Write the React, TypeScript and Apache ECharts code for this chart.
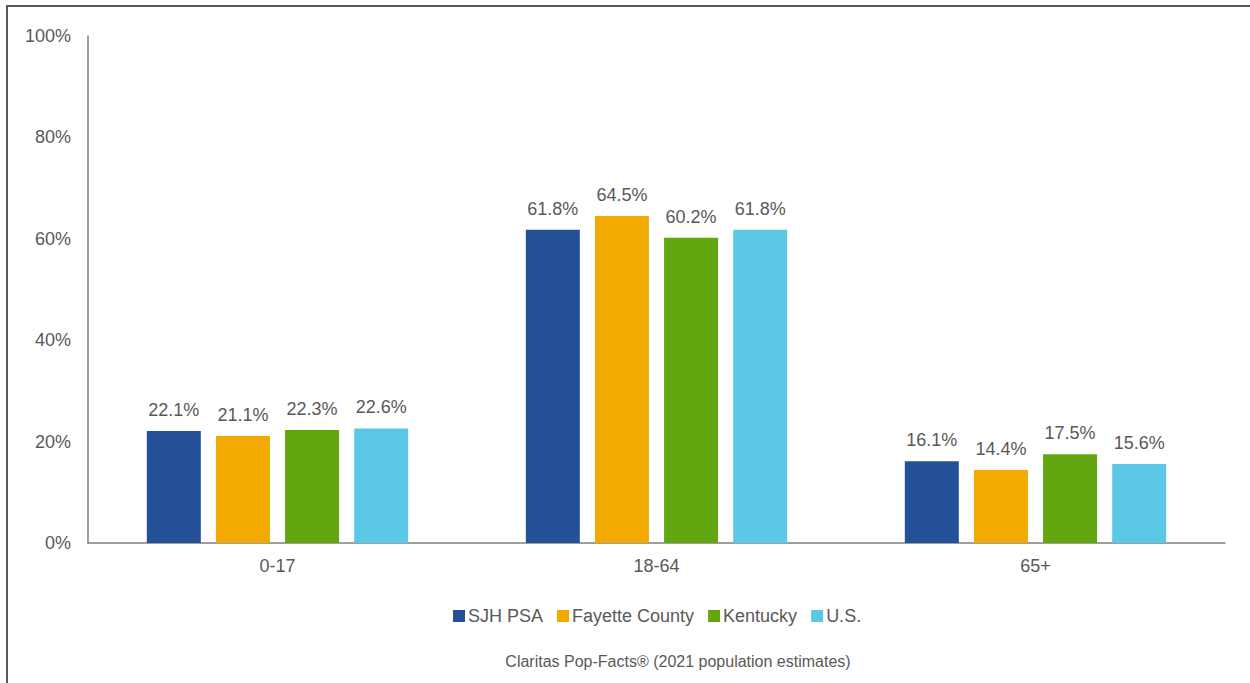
import React, { useEffect, useRef } from "react";
import * as echarts from "echarts";

const categories = ["0-17", "18-64", "65+"];
const seriesNames = ["SJH PSA", "Fayette County", "Kentucky", "U.S."];
const sjh = [22.1, 61.8, 16.1];
const fayette = [21.1, 64.5, 14.4];
const kentucky = [22.3, 60.2, 17.5];
const us = [22.6, 61.8, 15.6];
const colors = ["#245098", "#F2AA00", "#62A70F", "#5BC9E6"];
const sourceText = "Claritas Pop-Facts® (2021 population estimates)";

const FONT = "Liberation Sans, Arial, sans-serif";

export default function App() {
  const ref = useRef<HTMLDivElement>(null);
  useEffect(() => {
    const chart = echarts.init(ref.current!, null, { renderer: "svg" });
    const values = [sjh, fayette, kentucky, us];
    chart.setOption({
      animation: false,
      textStyle: { fontFamily: FONT },
      grid: { left: 88, right: 25, top: 36, bottom: 140 },
      legend: {
        left: 448,
        top: 602,
        itemWidth: 12,
        itemHeight: 12,
        itemGap: 14,
        icon: "rect",
        textStyle: { color: "#595959", fontSize: 18, padding: [0, 0, 0, -2] },
        data: seriesNames,
      },
      xAxis: {
        type: "category",
        data: categories,
        axisLine: { lineStyle: { color: "#7f7f7f", width: 1.5 } },
        axisTick: { show: false },
        axisLabel: { color: "#595959", fontSize: 18, margin: 14 },
      },
      yAxis: {
        type: "value",
        min: 0,
        max: 100,
        interval: 20,
        axisLine: { show: true, lineStyle: { color: "#7f7f7f", width: 1.5 } },
        axisTick: { show: false },
        splitLine: { show: false },
        axisLabel: { color: "#595959", fontSize: 18, margin: 17, formatter: "{value}%" },
      },
      graphic: [
        {
          type: "rect",
          shape: { x: 7, y: 6, width: 1260, height: 700 },
          style: { fill: "none", stroke: "#595959", lineWidth: 2 },
          silent: true,
        },
        {
          type: "text",
          x: 678,
          y: 661,
          style: {
            text: sourceText,
            fill: "#595959",
            fontSize: 16,
            fontFamily: FONT,
            align: "center",
            verticalAlign: "middle",
          },
        },
      ],
      series: seriesNames.map((name, i) => ({
        name,
        type: "bar",
        data: values[i],
        barWidth: 54,
        barGap: "28%",
        itemStyle: { color: colors[i] },
        label: {
          show: true,
          position: "top",
          distance: 12,
          color: "#595959",
          fontSize: 18,
          formatter: (p: any) => p.value.toFixed(1) + "%",
        },
      })),
    });
    return () => chart.dispose();
  }, []);
  return (
    <div
      ref={ref}
      style={{ position: "absolute", left: 0, top: 0, width: 1250, height: 683, background: "#fff" }}
    />
  );
}
